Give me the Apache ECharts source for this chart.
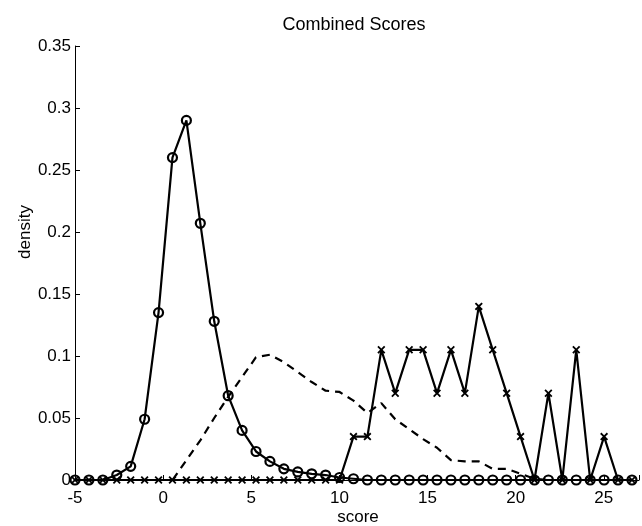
<!DOCTYPE html>
<html>
<head>
<meta charset="utf-8">
<script src="https://cdn.jsdelivr.net/npm/echarts@6/dist/echarts.min.js"></script>
<style>
html,body{margin:0;padding:0;background:#fff;}
#chart{width:642px;height:526px;}
</style>
</head>
<body>
<div id="chart"></div>
<script>
const titleText = 'Combined Scores';
const xName = 'score';
const yName = 'density';
const xTicks = [-5, 0, 5, 10, 15, 20, 25];
const yTicks = [0, 0.05, 0.1, 0.15, 0.2, 0.25, 0.3, 0.35];

const scores = [-5, -4.21, -3.42, -2.63, -1.84, -1.05, -0.26, 0.53, 1.32, 2.11,
  2.9, 3.69, 4.48, 5.27, 6.06, 6.85, 7.64, 8.43, 9.22, 10.01,
  10.8, 11.59, 12.38, 13.17, 13.96, 14.75, 15.54, 16.33, 17.12, 17.91,
  18.7, 19.49, 20.28, 21.07, 21.86, 22.65, 23.44, 24.23, 25.02, 25.81, 26.6];

const circleDensity = [0, 0, 0, 0.004, 0.011, 0.049, 0.135, 0.260, 0.290, 0.207,
  0.128, 0.068, 0.040, 0.023, 0.015, 0.009, 0.0065, 0.005, 0.004, 0.002,
  0.001, 0, 0, 0, 0, 0, 0, 0, 0, 0,
  0, 0, 0, 0, 0, 0, 0, 0, 0, 0, 0];

const dashedDensity = [0, 0, 0, 0, 0, 0, 0, 0, 0.016, 0.032,
  0.050, 0.067, 0.083, 0.099, 0.101, 0.095, 0.087, 0.079, 0.072, 0.071,
  0.064, 0.054, 0.062, 0.049, 0.041, 0.033, 0.026, 0.016, 0.015, 0.015,
  0.009, 0.009, 0.005, 0.001, 0, 0, 0, 0, 0, 0, 0];

const crossDensity = [0, 0, 0, 0, 0, 0, 0, 0, 0, 0,
  0, 0, 0, 0, 0, 0, 0, 0, 0, 0,
  0.035, 0.035, 0.105, 0.070, 0.105, 0.105, 0.070, 0.105, 0.070, 0.140,
  0.105, 0.070, 0.035, 0, 0.070, 0, 0.105, 0, 0.035, 0, 0];

const pairs = (ys) => scores.map((x, i) => [x, ys[i]]);
const FONT = '"Liberation Sans", Arial, Helvetica, sans-serif';
const crossPath = 'path://M0,1.6 L1.6,0 L5,3.4 L8.4,0 L10,1.6 L6.6,5 L10,8.4 L8.4,10 L5,6.6 L1.6,10 L0,8.4 L3.4,5 Z';

const chart = echarts.init(document.getElementById('chart'), null, {renderer: 'canvas'});
chart.setOption({
  animation: false,
  backgroundColor: '#ffffff',
  grid: {left: 75, right: 0, top: 46, bottom: 46, containLabel: false},
  xAxis: {
    type: 'value', min: -5, max: 27, interval: 5,
    axisLine: {show: true, onZero: false, lineStyle: {color: '#000', width: 1}},
    axisTick: {show: true, inside: true, length: 5, lineStyle: {color: '#000'}},
    splitLine: {show: false},
    axisLabel: {
      color: '#000', fontSize: 17, fontFamily: FONT, margin: 10,
      formatter: (v) => xTicks.indexOf(v) >= 0 ? String(v) : ''
    }
  },
  yAxis: {
    type: 'value', min: 0, max: 0.35, interval: 0.05,
    axisLine: {show: true, onZero: false, lineStyle: {color: '#000', width: 1}},
    axisTick: {show: true, inside: true, length: 5, lineStyle: {color: '#000'}},
    splitLine: {show: false},
    axisLabel: {
      color: '#000', fontSize: 17, fontFamily: FONT, margin: 4,
      formatter: (v) => {
        const t = yTicks.find(y => Math.abs(y - v) < 1e-9);
        return t === undefined ? '' : String(t);
      }
    }
  },
  graphic: [
    {type: 'text', x: 354, y: 25, style: {text: titleText, fill: '#000', font: '18px ' + FONT, align: 'center', verticalAlign: 'middle'}},
    {type: 'text', x: 358, y: 517, style: {text: xName, fill: '#000', font: '17px ' + FONT, align: 'center', verticalAlign: 'middle'}},
    {type: 'text', x: 25, y: 232, rotation: Math.PI / 2, style: {text: yName, fill: '#000', font: '17px ' + FONT, align: 'center', verticalAlign: 'middle'}}
  ],
  series: [
    {
      type: 'line', data: pairs(dashedDensity), showSymbol: false, symbol: 'none',
      lineStyle: {color: '#000', width: 2.2, type: [8, 6]}, z: 2
    },
    {
      type: 'line', data: pairs(crossDensity), symbol: crossPath, symbolSize: 8,
      itemStyle: {color: '#000'},
      lineStyle: {color: '#000', width: 2.2}, z: 3
    },
    {
      type: 'line', data: pairs(circleDensity), symbol: 'circle', symbolSize: 9,
      itemStyle: {color: 'rgba(255,255,255,0)', borderColor: '#000', borderWidth: 2.2},
      lineStyle: {color: '#000', width: 2.2}, z: 4
    }
  ]
});
</script>
</body>
</html>
